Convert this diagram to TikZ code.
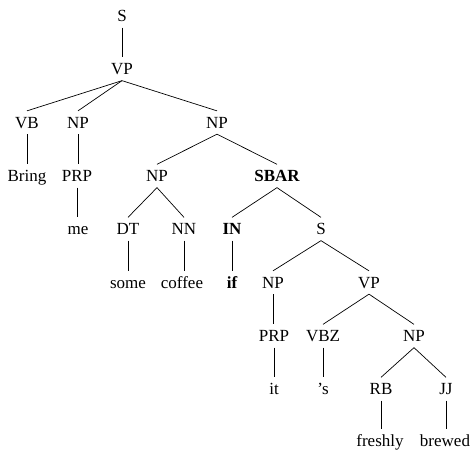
\documentclass[tikz,border=0pt]{standalone}
\usepackage{fontspec}
\setmainfont{Liberation Serif}
\begin{document}
\begin{tikzpicture}[x=1pt,y=-1pt,
  lab/.style={font=\fontsize{17}{17}\selectfont, inner sep=0pt, outer xsep=0pt, outer ysep=6pt,
    text height=11.3pt, text depth=0pt, anchor=center},
  blab/.style={lab, font=\fontsize{17}{17}\selectfont\bfseries},
  edge/.style={line width=0.7pt, black}]
\useasboundingbox (0,0) rectangle (472,450);
% row 1-2
\node[lab] (s) at (122,16) {S};
\node[lab] (vp) at (122,69) {VP};
% row 3
\node[lab] (vb) at (27,122.5) {VB};
\node[lab] (np1) at (78,122.5) {NP};
\node[lab] (np2) at (217,122.5) {NP};
% row 4
\node[lab] (bring) at (27,176) {Bring};
\node[lab] (prp1) at (77,176) {PRP};
\node[lab] (np3) at (157,176) {NP};
\node[blab] (sbar) at (277,176) {SBAR};
% row 5
\node[lab] (me) at (78,229) {me};
\node[lab] (dt) at (128,229) {DT};
\node[lab] (nn) at (184,229) {NN};
\node[blab] (in) at (232,229) {IN};
\node[lab] (s2) at (321,229) {S};
% row 6
\node[lab] (some) at (128,282.5) {some};
\node[lab] (coffee) at (182,282.5) {coffee};
\node[blab] (if) at (232,282.5) {if};
\node[lab] (np4) at (273,282.5) {NP};
\node[lab] (vp2) at (369,282.5) {VP};
% row 7
\node[lab] (prp2) at (274,336) {PRP};
\node[lab] (vbz) at (323,336) {VBZ};
\node[lab] (np5) at (414,336) {NP};
% row 8
\node[lab] (it) at (274,389) {it};
\node[lab] (poss) at (323,389) {'s};
\node[lab] (rb) at (381,389) {RB};
\node[lab] (jj) at (446,389) {JJ};
% row 9
\node[lab] (freshly) at (380,440.5) {freshly};
\node[lab] (brewed) at (445,440.5) {brewed};
% edges
\draw[edge] (s.south) -- (vp.north);
\draw[edge] (vp.south) -- (vb.north);
\draw[edge] (vp.south) -- (np1.north);
\draw[edge] (vp.south) -- (np2.north);
\draw[edge] (vb.south) -- (vb.south |- bring.north);
\draw[edge] (np1.south) -- (np1.south |- prp1.north);
\draw[edge] (np2.south) -- (np3.north);
\draw[edge] (np2.south) -- (sbar.north);
\draw[edge] (prp1.south) -- (prp1.south |- me.north);
\draw[edge] (np3.south) -- (dt.north);
\draw[edge] (np3.south) -- (nn.north);
\draw[edge] (sbar.south) -- (in.north);
\draw[edge] (sbar.south) -- (s2.north);
\draw[edge] (dt.south) -- (dt.south |- some.north);
\draw[edge] (nn.south) -- (nn.south |- coffee.north);
\draw[edge] (in.south) -- (in.south |- if.north);
\draw[edge] (s2.south) -- (np4.north);
\draw[edge] (s2.south) -- (vp2.north);
\draw[edge] (np4.south) -- (np4.south |- prp2.north);
\draw[edge] (vp2.south) -- (vbz.north);
\draw[edge] (vp2.south) -- (np5.north);
\draw[edge] (prp2.south) -- (prp2.south |- it.north);
\draw[edge] (vbz.south) -- (vbz.south |- poss.north);
\draw[edge] (np5.south) -- (rb.north);
\draw[edge] (np5.south) -- (jj.north);
\draw[edge] (rb.south) -- (rb.south |- freshly.north);
\draw[edge] (jj.south) -- (jj.south |- brewed.north);
\end{tikzpicture}
\end{document}
